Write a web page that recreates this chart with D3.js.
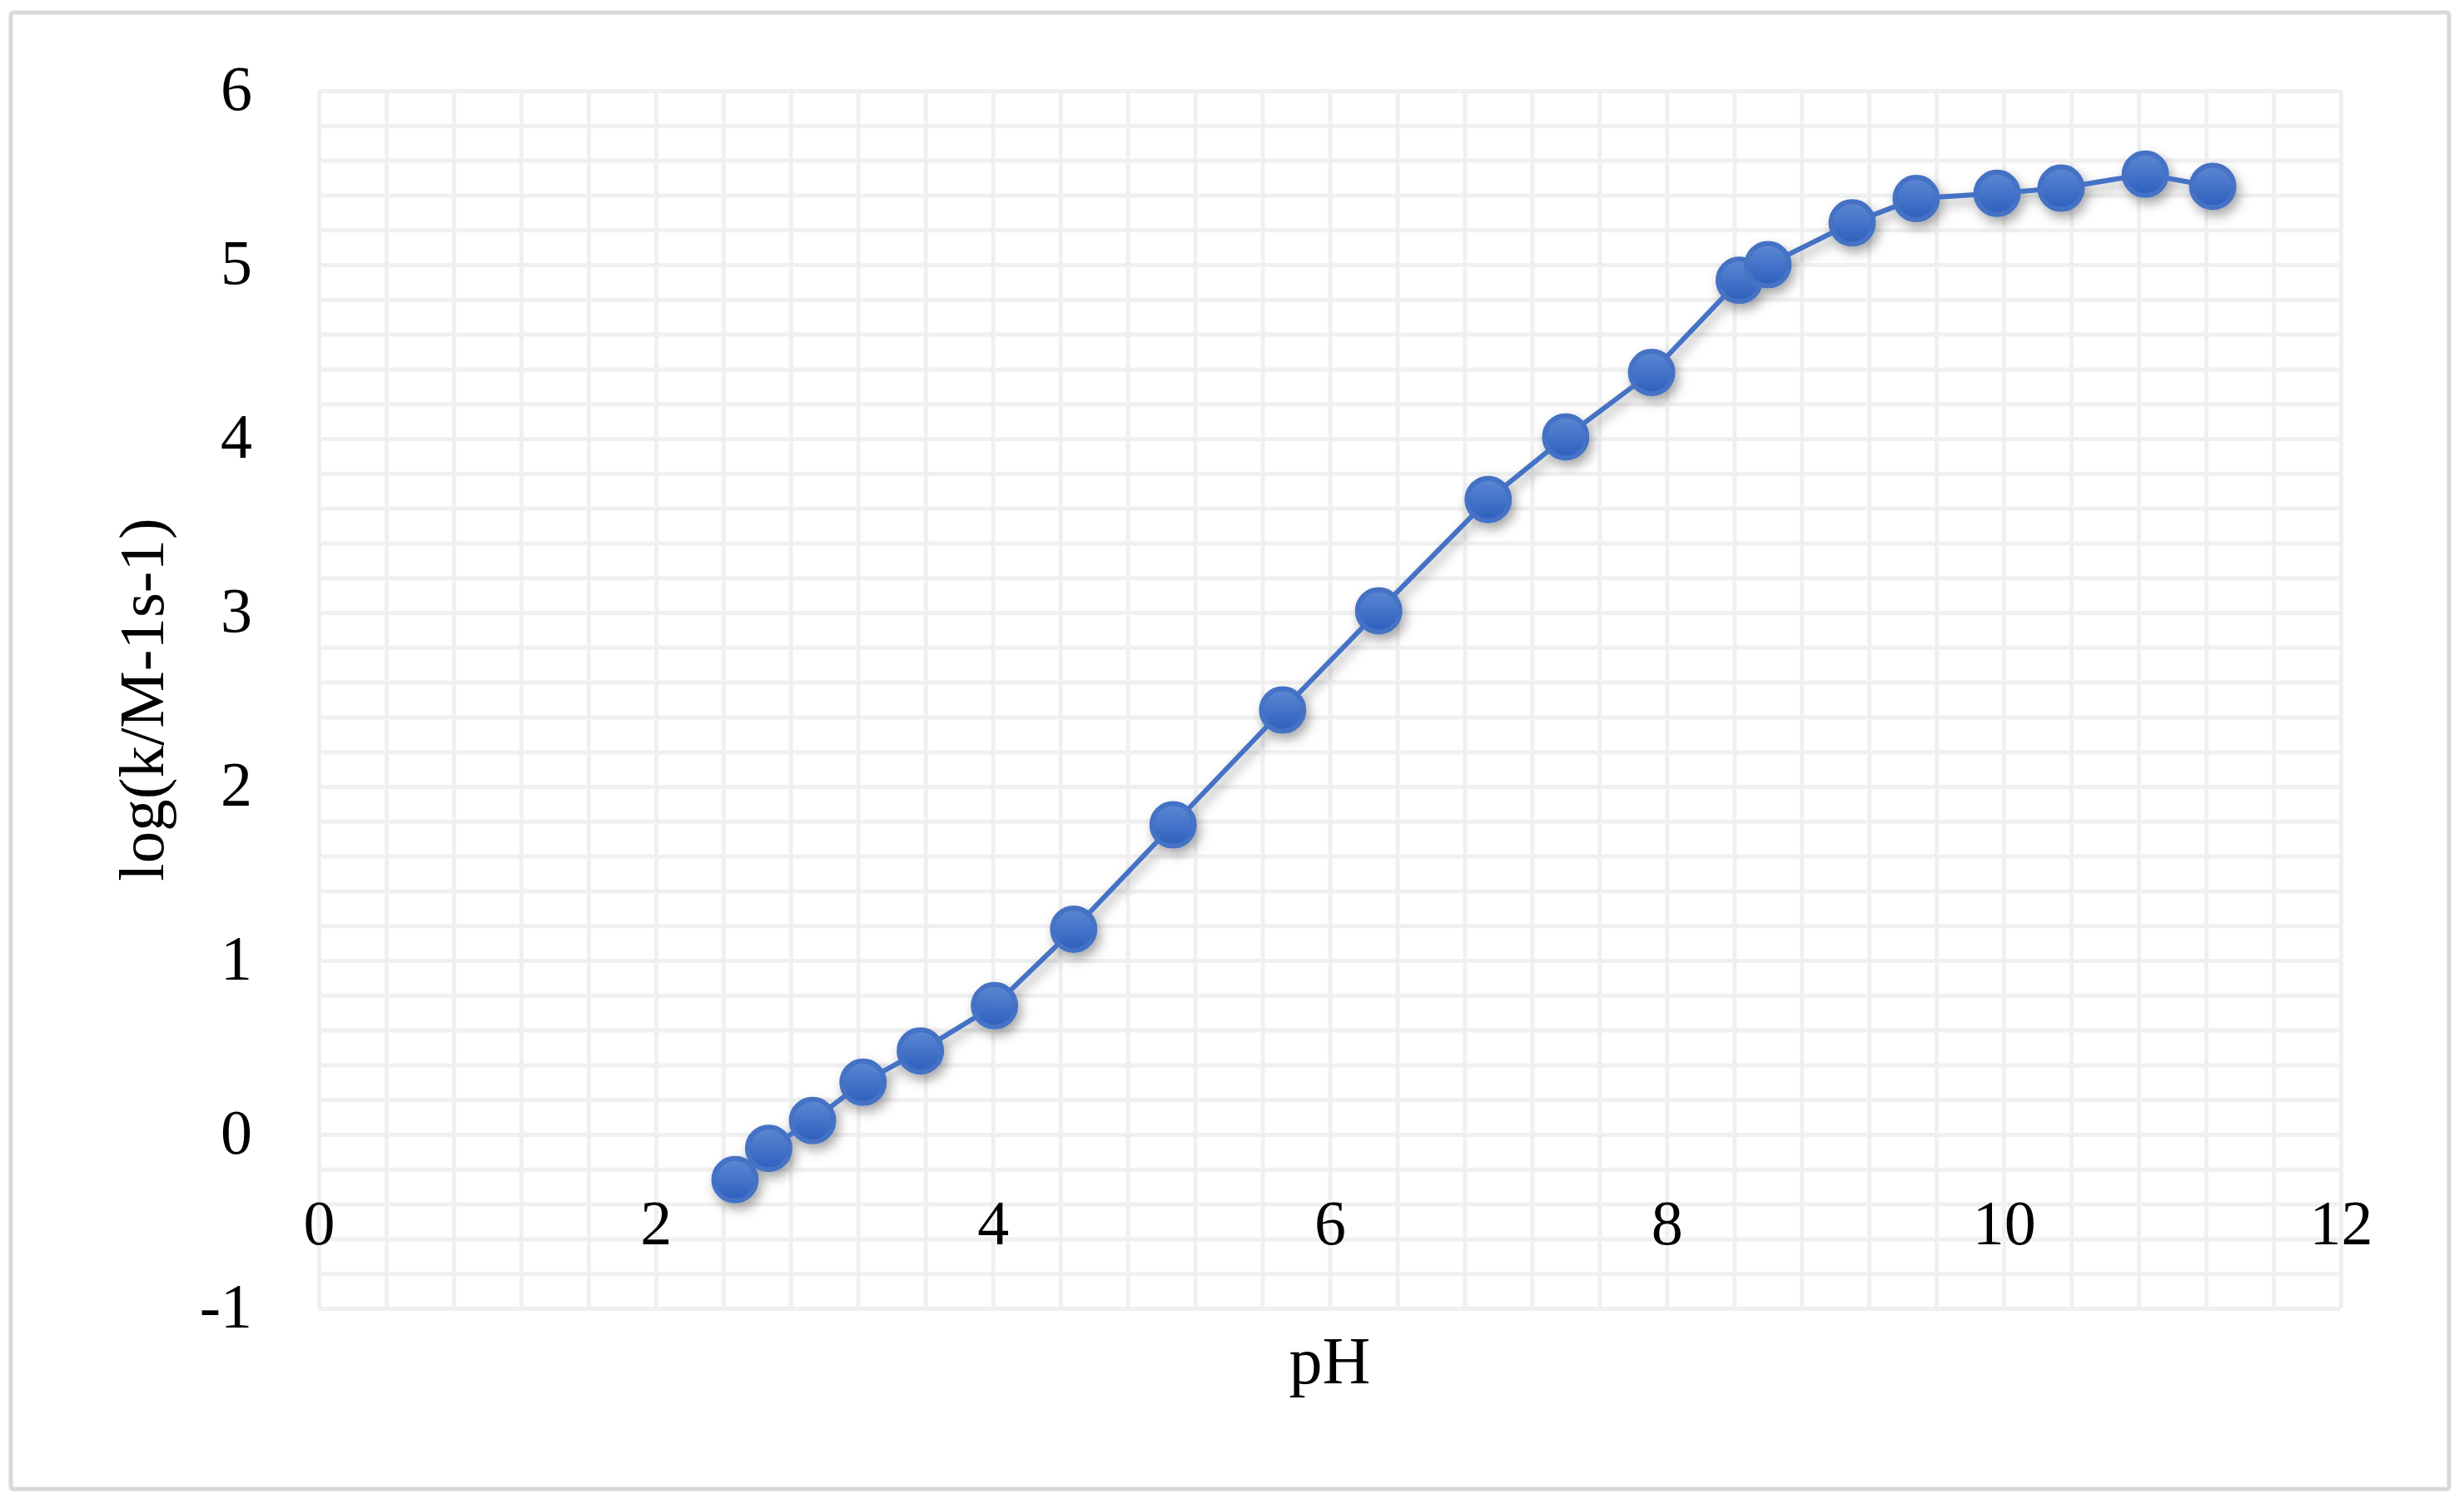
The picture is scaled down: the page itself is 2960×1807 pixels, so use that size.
<!DOCTYPE html>
<html>
<head>
<meta charset="utf-8">
<script src="https://cdn.jsdelivr.net/npm/d3@7"></script>
<style>
  html, body { margin: 0; padding: 0; background: #ffffff; }
  svg { display: block; }
  text { font-family: "Liberation Serif", "DejaVu Serif", serif; fill: #000; }
</style>
</head>
<body>
<svg id="chart" width="2960" height="1807"></svg>
<script>
// ---- data ----
const pH   = [2.47, 2.67, 2.93, 3.23, 3.57, 4.01, 4.48, 5.07, 5.72, 6.29, 6.94,
              7.40, 7.91, 8.43, 8.60, 9.10, 9.48, 9.96, 10.34, 10.84, 11.24];
const logK = [-0.26, -0.08, 0.08, 0.30, 0.48, 0.74, 1.18, 1.78, 2.44, 3.01, 3.65,
              4.01, 4.38, 4.91, 5.00, 5.24, 5.38, 5.41, 5.44, 5.52, 5.45];
const xTicks = [0, 2, 4, 6, 8, 10, 12];
const yTicks = [-1, 0, 1, 2, 3, 4, 5, 6];
const xLabel = "pH";
const yLabel = "log(k/M-1s-1)";

const points = pH.map((v, i) => ({ x: v, y: logK[i] }));

const svg = d3.select("#chart");
const plot = { left: 383, right: 2812, top: 109, bottom: 1572 };

// outer border
svg.append("rect")
  .attr("x", 13).attr("y", 15)
  .attr("width", 2929).attr("height", 1774)
  .attr("rx", 3)
  .attr("fill", "#ffffff")
  .attr("stroke", "#d9d9d9")
  .attr("stroke-width", 5);

const x = d3.scaleLinear().domain([0, 12]).range([plot.left, plot.right]);
const y = d3.scaleLinear().domain([-1, 6]).range([plot.bottom, plot.top]);
const fmt = d => String(d);  // plain hyphen-minus, as in the reference

// defs: gradient + shadow
const defs = svg.append("defs");
const grad = defs.append("linearGradient").attr("id", "mk")
  .attr("x1", 0).attr("y1", 0).attr("x2", 0).attr("y2", 1);
grad.append("stop").attr("offset", "0%").attr("stop-color", "#5d87d4");
grad.append("stop").attr("offset", "100%").attr("stop-color", "#2c5fbd");
const f = defs.append("filter").attr("id", "shadow")
  .attr("x", "-20%").attr("y", "-20%").attr("width", "140%").attr("height", "140%");
f.append("feDropShadow").attr("dx", 4).attr("dy", 7)
  .attr("stdDeviation", 7).attr("flood-color", "#000").attr("flood-opacity", 0.35);

// gridlines (major + minor)
const xGridVals = d3.range(0, 12.0001, 0.4);
const yGridVals = d3.range(-1, 6.0001, 0.2);
const grid = svg.append("g");
grid.append("g")
  .attr("transform", `translate(0,${plot.bottom})`)
  .call(d3.axisBottom(x).tickValues(xGridVals).tickSize(-(plot.bottom - plot.top)).tickFormat(""))
  .call(g => g.select(".domain").remove())
  .call(g => g.selectAll("line").attr("stroke", "#f0f0f0").attr("stroke-width", 5));
grid.append("g")
  .attr("transform", `translate(${plot.left},0)`)
  .call(d3.axisLeft(y).tickValues(yGridVals).tickSize(-(plot.right - plot.left)).tickFormat(""))
  .call(g => g.select(".domain").remove())
  .call(g => g.selectAll("line").attr("stroke", "#f0f0f0").attr("stroke-width", 5));

// y tick labels
svg.append("g")
  .attr("transform", `translate(${plot.left},0)`)
  .call(d3.axisLeft(y).tickValues(yTicks).tickSize(0).tickPadding(80).tickFormat(fmt))
  .call(g => g.select(".domain").remove())
  .call(g => g.selectAll("text")
    .attr("font-size", 76)
    .attr("font-family", "Liberation Serif, DejaVu Serif, serif")
    .attr("fill", "#000")
    .attr("dy", "0.3em"));

// x tick labels (axis crosses at y = 0, labels below)
svg.append("g")
  .attr("transform", `translate(0,${y(0)})`)
  .call(d3.axisBottom(x).tickValues(xTicks).tickSize(0).tickFormat(fmt))
  .call(g => g.select(".domain").remove())
  .call(g => g.selectAll("text")
    .attr("font-size", 76)
    .attr("font-family", "Liberation Serif, DejaVu Serif, serif")
    .attr("fill", "#000")
    .attr("y", 132).attr("dy", 0));

// series
const series = svg.append("g").attr("filter", "url(#shadow)");
series.append("path")
  .datum(points)
  .attr("fill", "none")
  .attr("stroke", "#4472c4")
  .attr("stroke-width", 6)
  .attr("d", d3.line().x(d => x(d.x)).y(d => y(d.y)));
series.selectAll("circle")
  .data(points)
  .join("circle")
  .attr("cx", d => x(d.x))
  .attr("cy", d => y(d.y))
  .attr("r", 25.5)
  .attr("fill", "url(#mk)")
  .attr("stroke", "#4472c4")
  .attr("stroke-width", 6);

// axis titles
svg.append("text")
  .attr("x", (plot.left + plot.right) / 2)
  .attr("y", 1662)
  .attr("text-anchor", "middle")
  .attr("font-size", 80)
  .text(xLabel);
svg.append("text")
  .attr("transform", `translate(196,${(plot.top + plot.bottom) / 2}) rotate(-90)`)
  .attr("text-anchor", "middle")
  .attr("font-size", 77)
  .text(yLabel);
</script>
</body>
</html>
